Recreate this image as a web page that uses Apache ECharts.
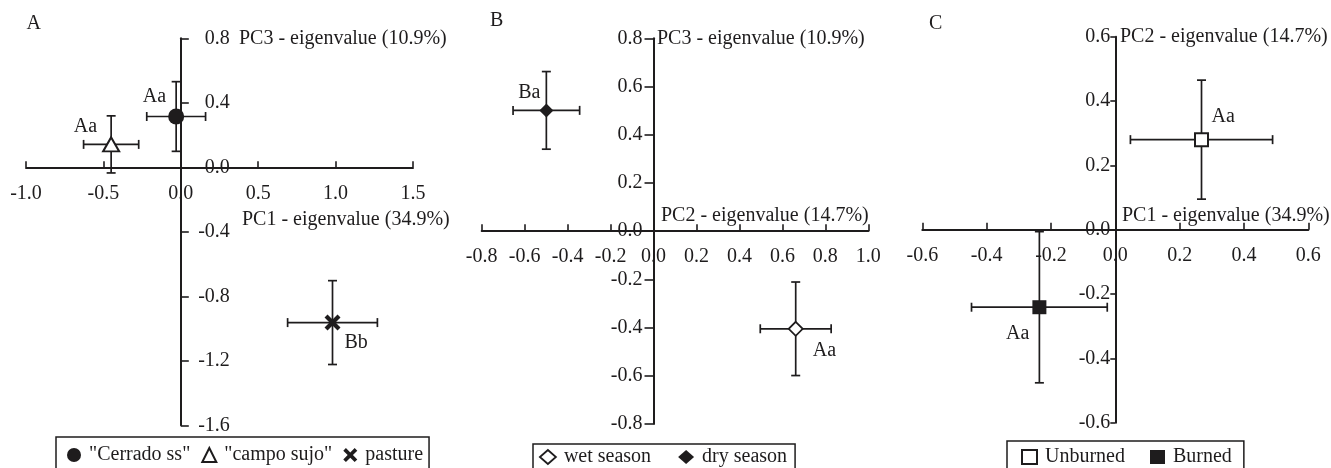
<!DOCTYPE html>
<html>
<head>
<meta charset="utf-8">
<script src="https://cdn.jsdelivr.net/npm/echarts@6/dist/echarts.min.js"></script>
<style>html,body{margin:0;padding:0;background:#fff}#c{width:1331px;height:468px}</style>
</head>
<body>
<div id="c"></div>
<script>
// ---------- data ----------
// Panel A: vegetation types (PC1 vs PC3)
const groupsA = ['"Cerrado ss"', '"campo sujo"', 'pasture'];
const pc1A = [-0.03, -0.45, 0.98];
const pc1ErrA = [0.19, 0.178, 0.29];
const pc3A = [0.315, 0.142, -0.963];
const pc3ErrA = [0.216, 0.177, 0.26];
const sigA = ['Aa', 'Aa', 'Bb'];
const ticksAx = [-1.0, -0.5, 0.0, 0.5, 1.0, 1.5];
const ticksAy = [-1.6, -1.2, -0.8, -0.4, 0.0, 0.4, 0.8];

// Panel B: seasons (PC2 vs PC3)
const groupsB = ['wet season', 'dry season'];
const pc2B = [0.662, -0.499];
const pc2ErrB = [0.165, 0.155];
const pc3B = [-0.405, 0.501];
const pc3ErrB = [0.194, 0.161];
const sigB = ['Aa', 'Ba'];
const ticksBx = [-0.8, -0.6, -0.4, -0.2, 0.0, 0.2, 0.4, 0.6, 0.8, 1.0];
const ticksBy = [-0.8, -0.6, -0.4, -0.2, 0.0, 0.2, 0.4, 0.6, 0.8];

// Panel C: fire (PC1 vs PC2)
const groupsC = ['Unburned', 'Burned'];
const pc1C = [0.268, -0.236];
const pc1ErrC = [0.221, 0.211];
const pc2C = [0.28, -0.241];
const pc2ErrC = [0.185, 0.235];
const sigC = ['Aa', 'Aa'];
const ticksCx = [-0.6, -0.4, -0.2, 0.0, 0.2, 0.4, 0.6];
const ticksCy = [-0.6, -0.4, -0.2, 0.0, 0.2, 0.4, 0.6];

// ---------- styles / layout ----------
const INK = '#1e1c1d';
const FONT = 'Liberation Serif';
const FS = 20;
const fmt = v => (Math.abs(v) < 1e-9 ? 0 : v).toFixed(1);
const step = t => Math.round((t[1] - t[0]) * 1000) / 1000;

const grids = [
  {left: 26, top: 38.3, width: 387, height: 387},
  {left: 481.7, top: 38.3, width: 386.6, height: 385.7},
  {left: 922.3, top: 36.7, width: 386, height: 386}
];

const XPATH = 'path://M3,0 L8,5 L13,0 L16,3 L11,8 L16,13 L13,16 L8,11 L3,16 L0,13 L5,8 L0,3 Z';
const markerStyles = {
  '"Cerrado ss"': {symbol: 'circle', symbolSize: 16, itemStyle: {color: INK}},
  '"campo sujo"': {symbol: 'triangle', symbolSize: [16, 14], itemStyle: {color: '#fff', borderColor: INK, borderWidth: 2}},
  'pasture': {symbol: XPATH, symbolSize: 16, itemStyle: {color: INK}},
  'wet season': {symbol: 'diamond', symbolSize: 14, itemStyle: {color: '#fff', borderColor: INK, borderWidth: 1.8}},
  'dry season': {symbol: 'diamond', symbolSize: 14, itemStyle: {color: INK}},
  'Unburned': {symbol: 'rect', symbolSize: 13, itemStyle: {color: '#fff', borderColor: INK, borderWidth: 2}},
  'Burned': {symbol: 'rect', symbolSize: 14, itemStyle: {color: INK}}
};
// label placement: [dx, dy, align]
const labelPlace = {
  '"Cerrado ss"': [-10, -20, 'right'],
  '"campo sujo"': [-14, -18, 'right'],
  'pasture': [12, 20, 'left'],
  'wet season': [17, 22, 'left'],
  'dry season': [-6, -18, 'right'],
  'Unburned': [10, -23, 'left'],
  'Burned': [-10, 27, 'right']
};

// axis crossing at zero: shift each axis from the grid edge to the other axis' zero
function zeroFrac(t) { return (0 - t[0]) / (t[t.length - 1] - t[0]); }

function mkX(ticks, otherTicks, gi, tickLen) {
  return {
    type: 'value', gridIndex: gi, min: ticks[0], max: ticks[ticks.length - 1], interval: step(ticks),
    position: 'bottom', offset: -grids[gi].height * zeroFrac(otherTicks),
    axisLine: {onZero: false, lineStyle: {color: INK, width: 2}},
    axisTick: {inside: true, length: tickLen, lineStyle: {color: INK, width: 1.6}},
    axisLabel: {margin: 16, color: INK, fontFamily: FONT, fontSize: FS, formatter: fmt},
    splitLine: {show: false}
  };
}
function mkY(ticks, otherTicks, gi, tickLen, inside, margin) {
  return {
    type: 'value', gridIndex: gi, min: ticks[0], max: ticks[ticks.length - 1], interval: step(ticks),
    position: 'left', offset: -grids[gi].width * zeroFrac(otherTicks),
    axisLine: {onZero: false, lineStyle: {color: INK, width: 2}},
    axisTick: {inside: inside, length: tickLen, lineStyle: {color: INK, width: 1.6}},
    axisLabel: {inside: inside, margin: margin, align: 'right', color: INK, fontFamily: FONT, fontSize: FS, formatter: fmt},
    splitLine: {show: false}
  };
}

function errRender(params, api) {
  const x = api.value(0), y = api.value(1), ex = api.value(2), ey = api.value(3);
  const l = api.coord([x - ex, y]), r = api.coord([x + ex, y]);
  const t = api.coord([x, y + ey]), b = api.coord([x, y - ey]);
  const c = 4.5;
  const style = {stroke: INK, lineWidth: 1.7};
  const ln = (x1, y1, x2, y2) => ({type: 'line', shape: {x1, y1, x2, y2}, style});
  return {type: 'group', children: [
    ln(l[0], l[1], r[0], r[1]),
    ln(l[0], l[1] - c, l[0], l[1] + c),
    ln(r[0], r[1] - c, r[0], r[1] + c),
    ln(t[0], t[1], b[0], b[1]),
    ln(t[0] - c, t[1], t[0] + c, t[1]),
    ln(b[0] - c, b[1], b[0] + c, b[1])
  ]};
}

const series = [];
function addPanel(gi, groups, xs, xe, ys, ye, sig) {
  series.push({
    type: 'custom', xAxisIndex: gi, yAxisIndex: gi, renderItem: errRender, z: 3, silent: true,
    encode: {x: 0, y: 1}, clip: false,
    data: groups.map((g, i) => [xs[i], ys[i], xe[i], ye[i]])
  });
  groups.forEach((g, i) => {
    const m = markerStyles[g], p = labelPlace[g];
    series.push({
      type: 'scatter', name: g, xAxisIndex: gi, yAxisIndex: gi, z: 5,
      symbol: m.symbol, symbolSize: m.symbolSize, itemStyle: Object.assign({opacity: 1}, m.itemStyle),
      label: {show: true, formatter: sig[i], position: 'inside', offset: [p[0], p[1]], align: p[2], verticalAlign: 'middle',
        color: INK, opacity: 1, fontFamily: FONT, fontSize: FS, textBorderWidth: 0},
      emphasis: {disabled: true},
      data: [[xs[i], ys[i]]]
    });
  });
}
addPanel(0, groupsA, pc1A, pc1ErrA, pc3A, pc3ErrA, sigA);
addPanel(1, groupsB, pc2B, pc2ErrB, pc3B, pc3ErrB, sigB);
addPanel(2, groupsC, pc1C, pc1ErrC, pc2C, pc2ErrC, sigC);

function mkLegend(groups, left, top, padding, itemGap, iw) {
  return {
    data: groups.map(g => {
      const m = markerStyles[g];
      return {name: g, icon: m.symbol, itemStyle: Object.assign({borderWidth: 0, opacity: 1}, m.itemStyle)};
    }),
    left: left, top: top, orient: 'horizontal', itemWidth: iw, itemHeight: 14, itemGap: itemGap,
    padding: padding, borderColor: INK, borderWidth: 1.5, borderRadius: 0, selectedMode: false,
    textStyle: {color: INK, fontFamily: FONT, fontSize: FS, padding: [0, 0, 0, 3]}
  };
}

const txt = (s, x, y) => ({type: 'text', x: x, y: y, silent: true,
  style: {text: s, fill: INK, font: FS + 'px "' + FONT + '"', align: 'left', verticalAlign: 'middle'}});

const option = {
  animation: false,
  backgroundColor: '#fff',
  grid: grids,
  xAxis: [mkX(ticksAx, ticksAy, 0, 6), mkX(ticksBx, ticksBy, 1, 7), mkX(ticksCx, ticksCy, 2, 7)],
  yAxis: [mkY(ticksAy, ticksAx, 0, 8, true, 49), mkY(ticksBy, ticksBx, 1, 9, false, 11), mkY(ticksCy, ticksCx, 2, 5, false, 5)],
  legend: [
    mkLegend(groupsA, 56, 437, [8, 6, 15, 11], 11, 14),
    mkLegend(groupsB, 533, 444, [3, 8, 15, 6], 27, 16),
    mkLegend(groupsC, 1007, 441, [6, 12, 15, 14], 25, 15)
  ],
  graphic: [
    txt('A', 26.5, 24),
    txt('B', 490, 21),
    txt('C', 929, 23.5),
    txt('PC3 - eigenvalue (10.9%)', 239, 38.5),
    txt('PC1 - eigenvalue (34.9%)', 242, 220),
    txt('PC3 - eigenvalue (10.9%)', 657, 38.5),
    txt('PC2 - eigenvalue (14.7%)', 661, 216),
    txt('PC2 - eigenvalue (14.7%)', 1120, 37),
    txt('PC1 - eigenvalue (34.9%)', 1122, 216)
  ],
  series: series
};

const chart = echarts.init(document.getElementById('c'), null, {renderer: 'canvas'});
chart.setOption(option);
</script>
</body>
</html>
